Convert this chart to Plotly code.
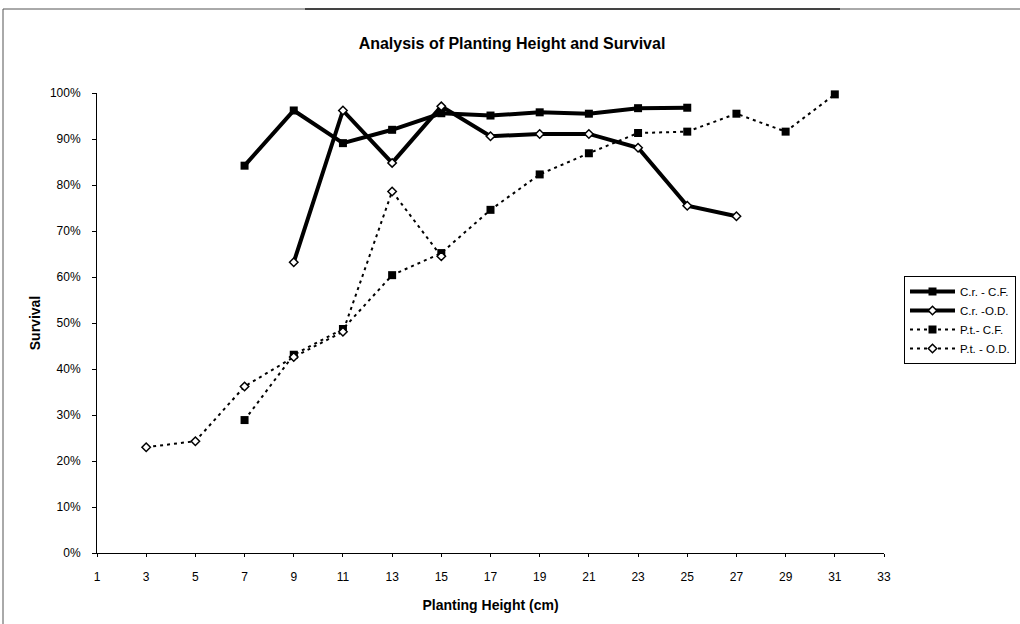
import plotly.graph_objects as go

# Planting height (cm) for each series
cr_cf_x = [7, 9, 11, 13, 15, 17, 19, 21, 23, 25]
cr_od_x = [9, 11, 13, 15, 17, 19, 21, 23, 25, 27]
pt_cf_x = [7, 9, 11, 13, 15, 17, 19, 21, 23, 25, 27, 29, 31]
pt_od_x = [3, 5, 7, 9, 11, 13, 15]

# Survival (fraction)
cr_cf_y = [0.842, 0.962, 0.891, 0.920, 0.956, 0.951, 0.958, 0.955, 0.967, 0.968]
cr_od_y = [0.632, 0.962, 0.848, 0.971, 0.906, 0.911, 0.911, 0.881, 0.755, 0.732]
pt_cf_y = [0.289, 0.431, 0.487, 0.604, 0.652, 0.746, 0.823, 0.869, 0.913, 0.916,
           0.955, 0.916, 0.997]
pt_od_y = [0.230, 0.243, 0.362, 0.426, 0.481, 0.786, 0.645]

x_ticks = list(range(1, 34, 2))
y_ticks = [i / 10 for i in range(11)]

FONT = "Liberation Sans, Arial, sans-serif"

fig = go.Figure()

fig.add_trace(go.Scatter(
    x=cr_cf_x, y=cr_cf_y, name="C.r. - C.F.", mode="lines+markers",
    line=dict(color="black", width=4),
    marker=dict(symbol="square", size=8, color="black"),
    cliponaxis=False,
))
fig.add_trace(go.Scatter(
    x=cr_od_x, y=cr_od_y, name="C.r. -O.D.", mode="lines+markers",
    line=dict(color="black", width=4),
    marker=dict(symbol="diamond", size=6.5, color="white",
                line=dict(color="black", width=1.5)),
    cliponaxis=False,
))
fig.add_trace(go.Scatter(
    x=pt_cf_x, y=pt_cf_y, name="P.t.- C.F.", mode="lines+markers",
    line=dict(color="black", width=2, dash="3px,4px"),
    marker=dict(symbol="square", size=8, color="black"),
    cliponaxis=False,
))
fig.add_trace(go.Scatter(
    x=pt_od_x, y=pt_od_y, name="P.t. - O.D.", mode="lines+markers",
    line=dict(color="black", width=2, dash="3px,4px"),
    marker=dict(symbol="diamond", size=6.5, color="white",
                line=dict(color="black", width=1.5)),
    cliponaxis=False,
))

L, R, T, B = 97, 136, 93, 71
W, H = 1020, 624
pw, ph = W - L - R, H - T - B


def px_x(p):
    return (p - L) / pw


def px_y(p):
    return (H - B - p) / ph


axis_common = dict(showgrid=False, zeroline=False, showline=True,
                   linecolor="black", linewidth=1,
                   tickfont=dict(family=FONT, size=12, color="black"),
                   tickcolor="black", tickwidth=1)

fig.update_layout(
    width=W, height=H,
    margin=dict(l=L, r=R, t=T, b=B, autoexpand=False),
    paper_bgcolor="white", plot_bgcolor="white",
    title=dict(text="<b>Analysis of Planting Height and Survival</b>",
               x=512 / W, xanchor="center",
               y=1 - 43 / H, yanchor="middle",
               font=dict(family=FONT, size=16, color="black")),
    xaxis=dict(range=[1, 33], tickvals=x_ticks, ticktext=[str(v) for v in x_ticks],
               ticks="outside", ticklen=3, ticklabelstandoff=10,
               title=dict(text="<b>Planting Height (cm)</b>", standoff=16,
                          font=dict(family=FONT, size=14, color="black")),
               **axis_common),
    yaxis=dict(range=[0, 1], tickvals=y_ticks, tickformat=".0%",
               ticks="outside", ticklen=4, ticklabelstandoff=9,
               title=dict(text="<b>Survival</b>", standoff=5,
                          font=dict(family=FONT, size=14, color="black")),
               **axis_common),
    xaxis2=dict(range=[1, 33], tickvals=x_ticks, overlaying="x", side="bottom",
                ticks="inside", ticklen=3, showticklabels=False, showgrid=False,
                zeroline=False, showline=False, tickcolor="black", anchor="y"),
    yaxis2=dict(range=[0, 1], tickvals=y_ticks, overlaying="y", side="left",
                ticks="inside", ticklen=5, showticklabels=False, showgrid=False,
                zeroline=False, showline=False, tickcolor="black", anchor="x"),
    legend=dict(x=px_x(904), y=px_y(276), xanchor="left", yanchor="top",
                bordercolor="black", borderwidth=1, bgcolor="white",
                font=dict(family=FONT, size=11.5, color="black"),
                itemwidth=45, tracegroupgap=0),
    showlegend=True,
)

# outer frame of the chart
fig.add_shape(type="line", xref="paper", yref="paper",
              x0=px_x(3), x1=px_x(1020), y0=px_y(9), y1=px_y(9),
              line=dict(color="#555555", width=1))
fig.add_shape(type="line", xref="paper", yref="paper",
              x0=px_x(305), x1=px_x(840), y0=px_y(9), y1=px_y(9),
              line=dict(color="#222222", width=1.5))
fig.add_shape(type="line", xref="paper", yref="paper",
              x0=px_x(3), x1=px_x(3), y0=px_y(9), y1=px_y(624),
              line=dict(color="#555555", width=1))

fig.write_html("out.html")
